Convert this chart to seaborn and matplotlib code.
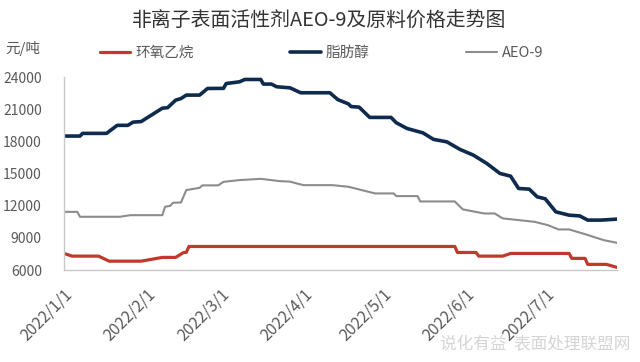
import pandas as pd
import numpy as np
import matplotlib
matplotlib.use("Agg")
import matplotlib.pyplot as plt
import matplotlib.transforms as mtransforms
import seaborn as sns

# 环氧乙烷 (EO)
eo_dates = ["01-01", "01-04", "01-14", "01-18", "01-30", "02-07", "02-12", "02-15", "02-16", "02-17",
            "05-28", "05-29", "06-05", "06-06", "06-15", "06-18", "07-10", "07-11", "07-16", "07-17",
            "07-24", "07-28"]
eo_values = [7550, 7300, 7300, 6830, 6830, 7180, 7180, 7640, 7650, 8200,
             8200, 7640, 7640, 7300, 7300, 7550, 7550, 7090, 7090, 6530,
             6530, 6250]

# 脂肪醇
fa_dates = ["01-01", "01-07", "01-08", "01-17", "01-21", "01-25", "01-27", "01-30", "02-07", "02-09",
            "02-12", "02-14", "02-16", "02-21", "02-24", "03-02", "03-03", "03-08", "03-10", "03-16",
            "03-17", "03-20", "03-22", "03-27", "03-31", "04-11", "04-14", "04-16", "04-18", "04-19",
            "04-22", "04-26", "05-04", "05-06", "05-10", "05-16", "05-20", "05-25", "05-30", "06-04",
            "06-09", "06-14", "06-18", "06-21", "06-25", "06-28", "07-01", "07-05", "07-10", "07-14",
            "07-17", "07-22", "07-28"]
fa_values = [18500, 18500, 18750, 18750, 19500, 19500, 19800, 19850, 21100, 21150,
             21850, 22000, 22320, 22320, 22940, 22950, 23400, 23560, 23780, 23780,
             23350, 23350, 23100, 23000, 22540, 22540, 21900, 21700, 21500, 21250,
             21200, 20240, 20240, 19740, 19210, 18800, 18190, 17960, 17250, 16720,
             15950, 15010, 14760, 13610, 13550, 12830, 12650, 11430, 11120, 11050,
             10660, 10660, 10750]

# AEO-9
aeo_dates = ["01-01", "01-06", "01-07", "01-22", "01-26", "02-07", "02-08", "02-10", "02-11", "02-14",
             "02-16", "02-21", "02-22", "02-28", "03-02", "03-08", "03-16", "03-23", "03-27", "04-01",
             "04-12", "04-18", "04-28", "05-05", "05-06", "05-14", "05-15", "05-28", "05-31", "06-08",
             "06-12", "06-15", "06-27", "07-02", "07-06", "07-10", "07-16", "07-23", "07-28"]
aeo_values = [11430, 11430, 10970, 10970, 11120, 11120, 11900, 12000, 12280, 12300,
              13460, 13670, 13900, 13900, 14230, 14390, 14510, 14300, 14250, 13920,
              13920, 13770, 13150, 13150, 12900, 12900, 12400, 12400, 11660, 11280,
              11280, 10820, 10500, 10190, 9790, 9790, 9350, 8790, 8540]

tick_dates = ["2022-01-01", "2022-02-01", "2022-03-01", "2022-04-01", "2022-05-01", "2022-06-01", "2022-07-01"]
tick_labels = ["2022/1/1", "2022/2/1", "2022/3/1", "2022/4/1", "2022/5/1", "2022/6/1", "2022/7/1"]
y_ticks = [6000, 9000, 12000, 15000, 18000, 21000, 24000]


def to_frame(dates, values):
    return pd.DataFrame({"date": pd.to_datetime(["2022-" + d for d in dates]), "price": values})


sns.set_theme(style="white")
plt.rcParams['font.family'] = ['Noto Sans CJK SC', 'DejaVu Sans']

fig = plt.figure(figsize=(6.4, 3.62), dpi=100)
ax = fig.add_axes([0.1, 0.254, 0.864, 0.533])

sns.lineplot(data=to_frame(eo_dates, eo_values), x="date", y="price", ax=ax,
             color="#c0392b", linewidth=2.3, label="环氧乙烷")
sns.lineplot(data=to_frame(fa_dates, fa_values), x="date", y="price", ax=ax,
             color="#0e2a4d", linewidth=2.6, label="脂肪醇")
sns.lineplot(data=to_frame(aeo_dates, aeo_values), x="date", y="price", ax=ax,
             color="#8c8c8c", linewidth=1.5, label="AEO-9")

ax.set_xlim(pd.Timestamp("2022-01-01"), pd.Timestamp("2022-07-28"))
ax.set_ylim(6000, 24000)
ax.set_yticks(y_ticks)
ax.set_yticklabels([str(v) for v in y_ticks], fontsize=10, color="#595959")
ax.set_xticks(pd.to_datetime(tick_dates))
ax.set_xticklabels(tick_labels, fontsize=11.5, color="#595959", rotation=45,
                   ha="right", rotation_mode="anchor")
shift = mtransforms.ScaledTranslation(6 / 100, 0, fig.dpi_scale_trans)
for lab in ax.get_xticklabels():
    lab.set_transform(lab.get_transform() + shift)
ax.tick_params(axis="x", direction="in", length=4, color="#bfbfbf", pad=11)
ax.tick_params(axis="y", length=0, pad=16)
ax.set_xlabel("")
ax.set_ylabel("")

for side in ["top", "right"]:
    ax.spines[side].set_visible(False)
for side in ["left", "bottom"]:
    ax.spines[side].set_color("#c8c8c8")
    ax.spines[side].set_linewidth(1)

ax.get_legend().remove()
handles, labels = ax.get_legend_handles_labels()
fig.legend(handles, labels, loc="center left", bbox_to_anchor=(0.156, 0.854), ncol=3,
           frameon=False, fontsize=10.5, handlelength=2.1, handletextpad=0.35,
           columnspacing=6.6, borderpad=0, borderaxespad=0, labelcolor="#595959")

fig.text(0.008, 0.867, "元/吨", fontsize=10.5, color="#595959", va="center")
fig.text(0.499, 0.942, "非离子表面活性剂AEO-9及原料价格走势图", fontsize=14.3,
         color="#333333", ha="center", va="center")

# 水印
fig.text(0.985, 0.035, "说化有益  表面处理联盟网", fontsize=12, color="#d5d5d5", ha="right")

fig.savefig("out.png", dpi=100)
